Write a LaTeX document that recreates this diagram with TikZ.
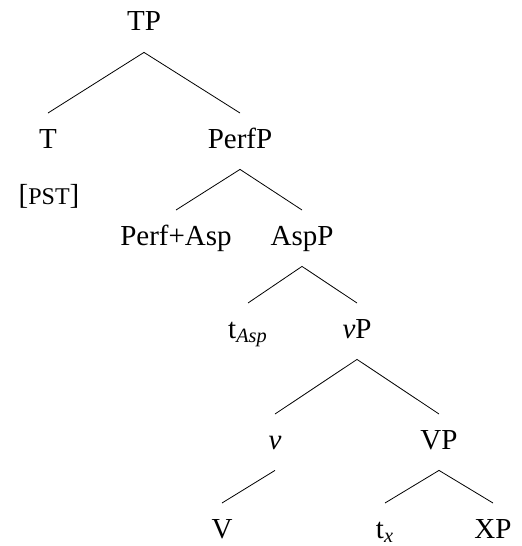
\documentclass[tikz,border=0pt]{standalone}
\usepackage{fontspec}
\setmainfont{Liberation Serif}
\begin{document}
\begin{tikzpicture}[x=0.5pt,y=-0.5pt,
    cat/.style={anchor=base,inner xsep=0pt,inner ysep=8pt,text height=9.3pt,text depth=2.5pt,font=\fontsize{14.5}{17}\selectfont}]
    \useasboundingbox (0,0) rectangle (522,546);
    \node[cat] (TP) at (144,31) {TP};
    \node[cat] (T) at (48,148) {T};
    \node[cat] (PerfP) at (240,148) {PerfP};
    \node[cat] (PST) at (49,204) {[{\fontsize{12}{14}\selectfont PST}]};
    \node[cat] (PerfAsp) at (176,245) {Perf+Asp};
    \node[cat] (AspP) at (302,245) {AspP};
    \node[cat] (tAsp) at (248,338) {t\textsubscript{\textit{Asp}}};
    \node[cat] (vP) at (357,338) {\textit{v}P};
    \node[cat] (v) at (275,449) {\textit{v}};
    \node[cat] (VP) at (439,449) {VP};
    \node[cat] (V) at (222,538) {V};
    \node[cat] (tx) at (385,538) {t\textsubscript{\textit{x}}};
    \node[cat] (XP) at (493,538) {XP};
    \draw (T.north)--(TP.south)--(PerfP.north);
    \draw (PerfAsp.north)--(PerfP.south)--(AspP.north);
    \draw (tAsp.north)--(AspP.south)--(vP.north);
    \draw (v.north)--(vP.south)--(VP.north);
    \draw (V.north)--(v.south);
    \draw (tx.north)--(VP.south)--(XP.north);
\end{tikzpicture}
\end{document}
